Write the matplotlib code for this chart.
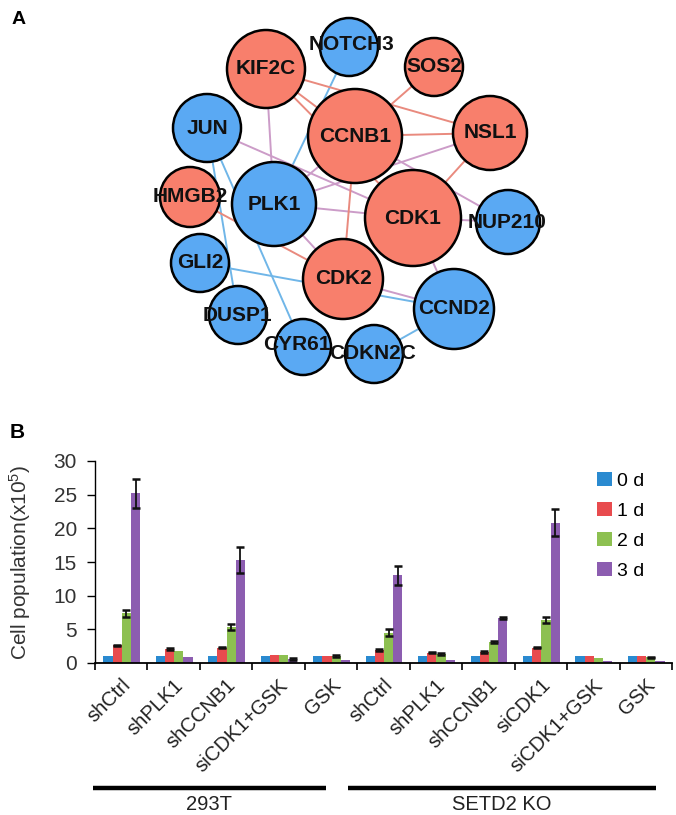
import numpy as np
import matplotlib
matplotlib.use("Agg")
import matplotlib.pyplot as plt
from matplotlib.patches import Circle

plt.rcParams['font.family'] = ['Liberation Sans', 'DejaVu Sans']
plt.rcParams['mathtext.default'] = 'regular'

# ---------------- Panel A: network data ----------------
node_names = ["KIF2C", "NOTCH3", "SOS2", "JUN", "CCNB1", "NSL1", "HMGB2", "PLK1",
              "CDK1", "NUP210", "GLI2", "CDK2", "CCND2", "DUSP1", "CYR61", "CDKN2C"]
node_x = [266, 349, 434, 207, 355, 490, 190, 274, 413, 508, 200, 343, 454, 238, 303, 374]
node_y = [69, 47, 67, 128, 136, 133, 197, 204, 218, 222, 263, 279, 309, 315, 347, 354]
node_r = [39, 29, 29, 34, 47, 37, 30, 42, 48, 32, 29, 40, 40, 29, 28, 29]
node_group = ["up", "down", "up", "down", "up", "up", "up", "down",
              "up", "down", "down", "up", "down", "down", "down", "down"]
label_x = [266, 352, 434, 207, 355, 490, 190, 274, 413, 507, 200, 343, 454, 237, 297, 373]
label_y = [69, 45, 67, 128, 136, 133, 197, 204, 218, 222, 263, 279, 309, 316, 345, 354]

edges_red = [("KIF2C", "CCNB1"), ("KIF2C", "CDK1"), ("KIF2C", "NSL1"), ("SOS2", "CCNB1"),
             ("CCNB1", "NSL1"), ("NSL1", "CDK1"), ("CCNB1", "CDK2"), ("HMGB2", "CDK2")]
edges_mauve = [("KIF2C", "PLK1"), ("JUN", "CDK1"), ("PLK1", "NSL1"), ("CCNB1", "NUP210"),
               ("PLK1", "CCNB1"), ("PLK1", "CDK1"), ("PLK1", "CDK2"), ("CDK1", "NUP210"),
               ("CDK1", "CCND2"), ("CDK2", "CCND2")]
edges_blue = [("NOTCH3", "PLK1"), ("JUN", "DUSP1"), ("JUN", "CYR61"),
              ("GLI2", "CCND2"), ("CDKN2C", "CCND2")]

# ---------------- Panel B: bar data ----------------
categories = ["shCtrl", "shPLK1", "shCCNB1", "siCDK1+GSK", "GSK",
              "shCtrl", "shPLK1", "shCCNB1", "siCDK1", "siCDK1+GSK", "GSK"]
series_names = ["0 d", "1 d", "2 d", "3 d"]
d0 = [1.0, 1.0, 1.0, 1.0, 1.0, 1.0, 1.0, 1.0, 1.0, 1.0, 1.0]
d1 = [2.6, 2.1, 2.3, 1.2, 1.1, 1.9, 1.55, 1.65, 2.3, 1.0, 1.0]
d2 = [7.4, 1.8, 5.3, 1.2, 1.05, 4.5, 1.3, 3.1, 6.4, 0.8, 0.85]
d3 = [25.2, 0.9, 15.3, 0.6, 0.4, 13.0, 0.5, 6.7, 20.8, 0.25, 0.25]
e0 = [0, 0, 0, 0, 0, 0, 0, 0, 0, 0, 0]
e1 = [0.12, 0.12, 0.12, 0, 0, 0.12, 0.12, 0.12, 0.12, 0, 0]
e2 = [0.5, 0, 0.45, 0, 0.1, 0.5, 0.12, 0.12, 0.5, 0, 0.1]
e3 = [2.2, 0, 1.9, 0.1, 0, 1.4, 0, 0.12, 2.0, 0, 0]
group_names = ["293T", "SETD2 KO"]
group_spans = [(-0.54, 3.9), (4.32, 10.19)]

bar_colors = ["#2A8AD0", "#E84B4E", "#8DC051", "#8C5DB0"]
node_colors = {"up": "#F87F6C", "down": "#5AA9F3"}
edge_colors = {"red": "#E98A7E", "mauve": "#CC9CC8", "blue": "#70B6E8"}

W, H = 676, 815
fig = plt.figure(figsize=(W / 100, H / 100), dpi=100)

# ---------------- Panel A ----------------
netH = 390
axn = fig.add_axes([0, 1 - netH / H, 1, netH / H])
axn.set_xlim(0, W)
axn.set_ylim(netH, 0)
axn.set_aspect('equal', adjustable='box')
axn.axis('off')
pos = {n: (x, y) for n, x, y in zip(node_names, node_x, node_y)}
for key, elist in (("blue", edges_blue), ("mauve", edges_mauve), ("red", edges_red)):
    for a, b in elist:
        axn.plot([pos[a][0], pos[b][0]], [pos[a][1], pos[b][1]],
                 color=edge_colors[key], lw=1.4, zorder=1, solid_capstyle='butt')
for n, x, y, r, g in zip(node_names, node_x, node_y, node_r, node_group):
    axn.add_patch(Circle((x, y), r, facecolor=node_colors[g], edgecolor='black',
                         lw=1.8, zorder=2))
for n, x, y in zip(node_names, label_x, label_y):
    axn.text(x, y, n, ha='center', va='center', fontsize=15, fontweight='bold',
             color='#111111', zorder=3)
fig.text(12 / W, 1 - 20 / H, "A", fontsize=14, fontweight='bold', ha='left', va='center')

# ---------------- Panel B ----------------
left, right, bottom, top = 95, 672, 663, 461
ax = fig.add_axes([left / W, 1 - bottom / H, (right - left) / W, (bottom - top) / H])
x = np.arange(len(categories))
bw = 0.175
vals = [d0, d1, d2, d3]
errs = [e0, e1, e2, e3]
handles = []
for i, (v, e, c, nm) in enumerate(zip(vals, errs, bar_colors, series_names)):
    xi = x + (i - 1.5) * bw + 0.01
    h = ax.bar(xi, v, width=bw, color=c, label=nm, zorder=2)
    handles.append(h)
    v = np.array(v); e = np.array(e, dtype=float)
    m = e > 0
    ax.errorbar(xi[m], v[m], yerr=e[m], fmt='none', ecolor='#111111', elinewidth=1.3,
                capsize=3.2, capthick=1.8, zorder=3)

ax.set_xlim(-0.5, len(categories) - 0.5)
ax.set_ylim(0, 30)
ax.set_yticks(np.arange(0, 31, 5))
ax.tick_params(axis='y', direction='out', length=6, width=1, labelsize=15, pad=7,
               labelcolor='#333333')
ax.set_xticks(x)
ax.set_xticklabels(categories, rotation=45, ha='right', va='top', rotation_mode='anchor',
                   fontsize=14.5, color='#222222')
ax.tick_params(axis='x', which='major', length=0, pad=9)
ax.set_xticks(np.arange(-0.5, len(categories), 1.0), minor=True)
ax.tick_params(axis='x', which='minor', direction='out', length=5, width=1.2)
for s in ('top', 'right'):
    ax.spines[s].set_visible(False)
ax.spines['left'].set_linewidth(1.0)
ax.spines['bottom'].set_linewidth(1.3)
ax.set_ylabel("Cell population(x10$^{5}$)", fontsize=15, color='#333333')
ax.yaxis.set_label_coords(-0.108, 0.5)

leg = fig.legend(handles=handles, labels=series_names, loc='upper left',
                 bbox_to_anchor=(597 / W, 1 - 472 / H), frameon=False, fontsize=14,
                 handlelength=0.75, handleheight=0.75, handletextpad=0.3,
                 labelspacing=0.62, borderpad=0, borderaxespad=0)

trans = ax.get_xaxis_transform()
line_y = -(788 - bottom) / (bottom - top)
text_y = -(804 - bottom) / (bottom - top)
for (x0, x1), gname in zip(group_spans, group_names):
    ax.plot([x0, x1], [line_y, line_y], color='black', lw=3.2, transform=trans,
            clip_on=False, solid_capstyle='butt')
    ax.text((x0 + x1) / 2, text_y, gname, transform=trans, ha='center', va='center',
            fontsize=14.5, color='#222222')

fig.text(10 / W, 1 - 432 / H, "B", fontsize=15, fontweight='bold', ha='left', va='center')

fig.savefig("out.png", dpi=100)
